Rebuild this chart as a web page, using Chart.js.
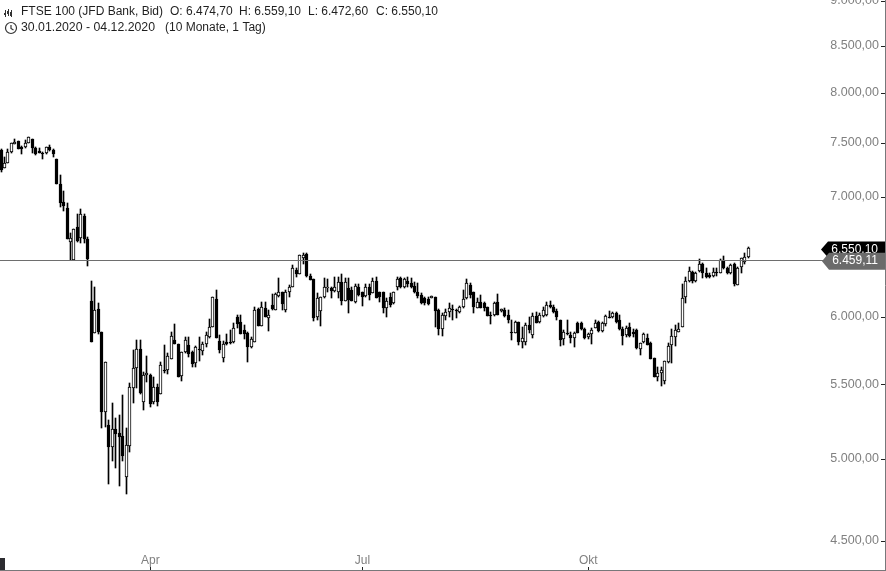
<!DOCTYPE html>
<html>
<head>
<meta charset="utf-8">
<title>FTSE 100</title>
<script src="https://cdn.jsdelivr.net/npm/chart.js@4/dist/chart.umd.min.js"></script>
<style>
	html,body{margin:0;padding:0;background:#fff;overflow:hidden;}
	canvas{display:block;}
</style>
</head>
<body>
<canvas id="chart" width="886" height="571"></canvas>
<script>
(function(){
	'use strict';

	// daily candles 30.01.2020 - 04.12.2020
	var opens=[
		7432,7263,7309,7413,7490,7520,7461,7461,7500,7539,
		7451,7423,7403,7403,7461,7432,7346,7115,6952,6899,
		6604,6453,6733,6638,6829,6630,6122,5875,6060,5883,
		5308,5221,5076,5194,5168,5147,4884,5082,5475,5618,
		5756,5377,5567,5567,5377,5482,5433,5603,5603,5683,
		5823,5793,5560,5734,5786,5734,5654,5756,5742,5793,
		5845,5921,6138,5815,5691,5808,5808,5808,5997,5959,
		5898,5875,5771,5808,6060,5928,6068,5990,6091,6052,
		6161,6193,6052,6193,6233,6371,6339,6470,6503,6323,
		6298,5997,6044,6154,6225,6225,6201,6193,6274,6122,
		6225,6209,6114,6233,6193,6161,6233,6185,6282,6193,
		6193,6068,6154,6107,6233,6306,6233,6282,6265,6241,
		6193,6169,6146,6138,6146,6154,6052,5906,6005,6036,
		6060,6052,6036,6075,6146,6249,6193,6068,6114,6107,
		6075,6013,6013,6114,6044,6052,6013,5883,5875,5959,
		5808,5808,5936,5860,6005,5959,6005,6013,6091,6075,
		6044,5974,5830,5875,5860,5838,5951,5951,5906,5845,
		5868,5913,5959,5890,5944,5997,5997,6028,5974,5906,
		5860,5921,5883,5898,5756,5808,5838,5801,5691,5553,
		5582,5525,5661,5786,5845,5883,5921,6154,6282,6355,
		6282,6363,6420,6347,6331,6323,6355,6347,6445,6387,
		6347,6420,6249,6395,6437,6474.7
	];
	var closes=[
		7244,7309,7413,7500,7510,7442,7442,7500,7558,7451,
		7394,7403,7394,7461,7432,7394,7115,6943,6917,6630,
		6638,6716,6613,6847,6630,6461,5808,6052,5883,5308,
		5661,5076,5194,5161,5141,5017,5089,5482,5618,5756,
		5440,5567,5582,5363,5482,5377,5639,5596,5705,5853,
		5793,5553,5734,5823,5720,5647,5771,5749,5793,5860,
		5921,6154,5838,5749,5793,5793,5801,5913,5944,5868,
		5868,5771,5830,6052,5928,6075,5997,6013,6060,6177,
		6193,6099,6193,6233,6387,6339,6495,6495,6323,6290,
		5990,6146,6154,6233,6233,6201,6233,6274,6122,6274,
		6130,6122,6241,6169,6154,6233,6169,6282,6146,6154,
		6068,6122,6091,6193,6298,6233,6298,6257,6233,6193,
		6161,6107,6107,6099,6161,6044,5906,6013,6036,6068,
		6052,6044,6075,6138,6265,6169,6075,6114,6068,6068,
		6005,6005,6107,6013,6060,6005,5974,5875,5959,5808,
		5838,5936,5898,6005,5951,6013,6052,6091,6075,6036,
		5997,5823,5883,5868,5838,5875,5875,5906,5838,5868,
		5898,5951,5890,5951,6005,5990,6028,5959,5906,5853,
		5913,5853,5868,5764,5801,5868,5786,5683,5553,5582,
		5603,5669,5779,5853,5898,5906,6146,6282,6363,6282,
		6347,6420,6347,6314,6314,6355,6347,6453,6387,6347,
		6412,6257,6387,6470,6478,6550.1
	];
	var highs=[
		7442,7365,7442,7500,7539,7520,7471,7529,7558,7539,
		7461,7451,7413,7461,7481,7442,7346,7198,7051,6943,
		6681,6716,6847,6891,6847,6647,6282,6233,6107,5883,
		5661,5255,5370,5268,5288,5426,5201,5511,5749,5823,
		5823,5589,5705,5575,5553,5504,5661,5786,5727,5883,
		5944,5793,5734,5845,5845,5742,5779,5845,5808,5883,
		5982,6154,6209,5860,5815,5868,5898,5951,6013,6013,
		5936,5883,5845,6075,6068,6114,6114,6052,6177,6185,
		6306,6193,6209,6249,6412,6387,6495,6512,6512,6339,
		6298,6185,6154,6306,6298,6233,6314,6314,6339,6306,
		6306,6233,6257,6257,6193,6257,6257,6306,6314,6193,
		6193,6146,6185,6193,6314,6314,6306,6314,6306,6274,
		6265,6185,6154,6154,6161,6154,6060,6028,6060,6107,
		6091,6060,6083,6209,6298,6265,6193,6146,6169,6114,
		6075,6036,6114,6177,6060,6068,6052,5974,5967,5959,
		5921,5951,5997,6028,6036,6028,6075,6114,6122,6091,
		6060,5974,5898,5974,5883,5883,5959,5959,5913,5875,
		5913,5974,5967,5959,6013,6044,6036,6036,6013,5921,
		5928,5951,5906,5906,5801,5875,5868,5808,5691,5625,
		5625,5669,5801,5906,5936,5951,6257,6314,6395,6363,
		6355,6461,6428,6387,6347,6387,6387,6461,6487,6395,
		6420,6428,6395,6470,6512,6559.1
	];
	var lows=[
		7226,7263,7309,7403,7490,7442,7394,7451,7500,7403,
		7384,7403,7346,7394,7423,7365,7115,6908,6873,6630,
		6453,6453,6604,6596,6596,6404,5808,5875,5868,5201,
		5207,4840,4985,4941,4828,4985,4778,5043,5370,5475,
		5433,5322,5518,5343,5363,5350,5433,5582,5575,5683,
		5793,5553,5525,5727,5698,5625,5625,5669,5712,5771,
		5838,5921,5838,5727,5661,5786,5793,5801,5913,5868,
		5830,5661,5764,5808,5928,5928,5997,5890,6052,6052,
		6154,6052,6036,6154,6233,6314,6339,6420,6314,6290,
		5967,5974,5928,6146,6193,6146,6193,6146,6091,6122,
		6028,6122,6107,6161,6083,6154,6130,6185,6146,6114,
		6028,5997,6075,6099,6209,6225,6225,6233,6225,6185,
		6146,6099,6091,6091,6146,5921,5860,5853,5974,5997,
		5974,5990,6028,6068,6138,6146,6028,6068,6068,6044,
		6005,5944,6005,6013,6036,5997,5951,5823,5875,5786,
		5764,5786,5875,5838,5951,5951,5997,6005,6068,6028,
		5974,5779,5786,5860,5801,5771,5875,5898,5830,5830,
		5793,5913,5883,5883,5928,5990,5990,5951,5898,5786,
		5845,5845,5845,5756,5712,5801,5786,5683,5553,5525,
		5489,5504,5654,5654,5779,5883,5921,6107,6274,6265,
		6274,6355,6306,6306,6306,6314,6323,6347,6379,6339,
		6339,6241,6249,6347,6420,6472.6
	];

	var priceTicks=[4500,5000,5500,6000,7000,7500,8000,8500,9000];
	var monthPositions=[43,104,169];
	var monthLabels=['Apr','Jul','Okt'];
	var lastClose=6550.10;
	var bidLine=6459.11;

	var FONT='"Liberation Sans", Arial, sans-serif';
	var AXIS_COLOR='#77787a';
	var TEXT_COLOR='#808080';

	function price(v){
		return v.toLocaleString('de-DE',{minimumFractionDigits:2,maximumFractionDigits:2});
	}

	var wicks=[];
	var bodies=[];
	var bodyColors=[];
	opens.forEach(function(open,i){
		wicks.push({x:i,y:[lows[i],highs[i]]});
		bodies.push({x:i,y:[open,closes[i]]});
		bodyColors.push(closes[i]>=open?'#ffffff':'#000000');
	});

	function noPadding(s){
		s.paddingTop=0;
		s.paddingBottom=0;
		s.paddingLeft=0;
		s.paddingRight=0;
	}

	function badge(ctx,right,left,y,halfH,color,text,textY){
		ctx.fillStyle=color;
		ctx.beginPath();
		ctx.moveTo(left,y);
		ctx.lineTo(left+7,y-halfH);
		ctx.lineTo(right,y-halfH);
		ctx.lineTo(right,y+halfH);
		ctx.lineTo(left+7,y+halfH);
		ctx.closePath();
		ctx.fill();
		ctx.fillStyle='#ffffff';
		ctx.font='12px '+FONT;
		ctx.textAlign='right';
		ctx.textBaseline='middle';
		ctx.fillText(text,right-7,textY);
	}

	function header(ctx){
		ctx.save();
		ctx.fillStyle='#1f1f1f';
		ctx.font='12px '+FONT;
		ctx.textAlign='left';
		ctx.textBaseline='middle';
		ctx.fillText('FTSE 100 (JFD Bank, Bid)',21,11.5);
		ctx.fillText('O: 6.474,70',170,11.5);
		ctx.fillText('H: 6.559,10',239,11.5);
		ctx.fillText('L: 6.472,60',308,11.5);
		ctx.fillText('C: 6.550,10',376,11.5);
		ctx.fillText('(10 Monate, 1 Tag)',165,27.5);
		ctx.font='12.3px '+FONT;
		ctx.fillText('30.01.2020 - 04.12.2020',21,27.5);

		// little candle icon
		ctx.strokeStyle='#333';
		ctx.lineWidth=1;
		[[5.5,10,17,13,15],[8.5,9,16,11,14],[11.5,10,17,12,16]].forEach(function(c){
			ctx.beginPath();
			ctx.moveTo(c[0],c[1]);
			ctx.lineTo(c[0],c[2]);
			ctx.stroke();
			ctx.fillStyle='#333';
			ctx.fillRect(c[0]-1.5,c[3],2,c[4]-c[3]);
		});
		// clock icon
		ctx.lineWidth=1.2;
		ctx.beginPath();
		ctx.arc(11,28,5.5,0,Math.PI*2);
		ctx.moveTo(11,25);
		ctx.lineTo(11,28.5);
		ctx.lineTo(13.5,30);
		ctx.stroke();
		ctx.restore();
	}

	var overlay={
		id:'overlay',
		// the picture has crisp bars, so snap what the scales gave to whole pixels
		afterDatasetsUpdate:function(chart){
			chart.data.datasets.forEach(function(ds,d){
				chart.getDatasetMeta(d).data.forEach(function(bar){
					bar.x=Math.floor(bar.x)+0.5;
					bar.y=Math.round(bar.y);
					bar.base=Math.round(bar.base);
					if(bar.y===bar.base){
						bar.y=bar.y-1;
					}
				});
			});
		},
		afterDraw:function(chart){
			var ctx=chart.ctx;
			var xs=chart.scales.x;
			var ys=chart.scales.y;
			var area=chart.chartArea;

			ctx.save();
			ctx.strokeStyle='#6e6e6e';
			ctx.lineWidth=1;
			var yBid=Math.ceil(ys.getPixelForValue(bidLine))+0.5;
			ctx.beginPath();
			ctx.moveTo(0,yBid);
			ctx.lineTo(824,yBid);
			ctx.stroke();

			// tick marks sit inside the plot
			ctx.strokeStyle='#222';
			priceTicks.forEach(function(v){
				var y=Math.round(ys.getPixelForValue(v))+0.5;
				ctx.beginPath();
				ctx.moveTo(area.right-4,y);
				ctx.lineTo(area.right,y);
				ctx.stroke();
			});
			monthPositions.forEach(function(v){
				var x=Math.round(xs.getPixelForValue(v))+0.5;
				ctx.beginPath();
				ctx.moveTo(x,area.bottom-3);
				ctx.lineTo(x,area.bottom);
				ctx.stroke();
			});

			var yLast=ys.getPixelForValue(lastClose);
			var yMid=ys.getPixelForValue(bidLine);
			badge(ctx,area.right,821,yLast+1,8,'#000000',price(lastClose),yLast+1.5);
			badge(ctx,area.right,822,yMid+2,8.5,'#6b6b6b',price(bidLine),yMid+1);

			// stub of a volume bar at the lower left
			ctx.fillStyle='#2c2c30';
			ctx.fillRect(0,558,5,12);
			ctx.restore();

			header(ctx);
		}
	};

	new Chart(document.getElementById('chart'),{
		type:'bar',
		data:{
			datasets:[
				{
					label:'High/Low',
					data:wicks,
					backgroundColor:'#000000',
					barThickness:1,
					grouped:false,
					order:2
				},
				{
					label:'FTSE 100',
					data:bodies,
					backgroundColor:bodyColors,
					borderColor:'#000000',
					borderWidth:1,
					borderSkipped:false,
					barThickness:3,
					grouped:false,
					order:1
				}
			]
		},
		options:{
			responsive:false,
			animation:false,
			layout:{padding:0},
			plugins:{legend:{display:false},tooltip:{enabled:false},title:{display:false}},
			scales:{
				x:{
					type:'linear',
					offset:false,
					min:-0.29,
					max:254.4,
					afterFit:function(s){
						s.height=1;
						noPadding(s);
					},
					afterBuildTicks:function(s){
						s.ticks=monthPositions.map(function(v){return {value:v};});
					},
					grid:{display:false},
					border:{display:true,color:AXIS_COLOR,width:1},
					ticks:{
						color:TEXT_COLOR,
						font:{family:FONT,size:12},
						mirror:true,
						padding:2,
						maxRotation:0,
						autoSkip:false,
						callback:function(v){
							return monthLabels[monthPositions.indexOf(v)];
						}
					}
				},
				y:{
					type:'logarithmic',
					position:'right',
					min:4334,
					max:9012,
					afterFit:function(s){
						s.width=1;
						noPadding(s);
					},
					afterBuildTicks:function(s){
						s.ticks=priceTicks.map(function(v){return {value:v};});
					},
					grid:{display:false},
					border:{display:true,color:AXIS_COLOR,width:1},
					ticks:{
						color:TEXT_COLOR,
						font:{family:FONT,size:12.5},
						mirror:true,
						padding:-6,
						autoSkip:false,
						callback:function(v){return price(v);}
					}
				}
			}
		},
		plugins:[overlay]
	});
})();
</script>
</body>
</html>
